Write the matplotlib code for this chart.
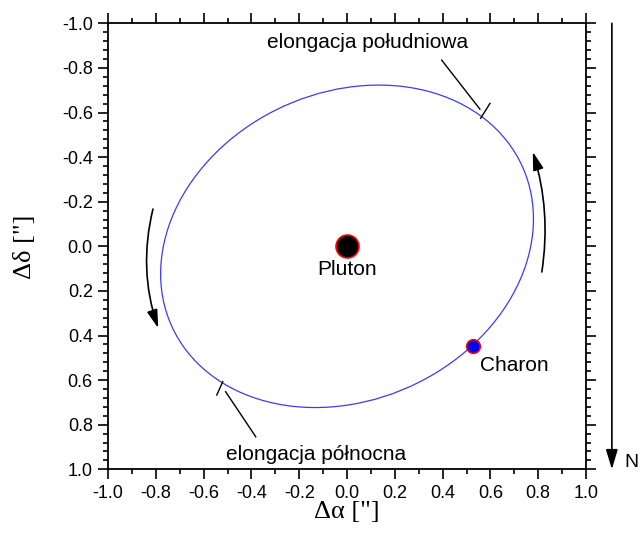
import matplotlib
matplotlib.use('Agg')
import matplotlib.pyplot as plt
from matplotlib.patches import Ellipse, FancyArrowPatch
from matplotlib.ticker import MultipleLocator, FormatStrFormatter

plt.rcParams['font.family'] = ['Liberation Sans', 'DejaVu Sans']
plt.rcParams['axes.unicode_minus'] = False

# ---- data (arcsec) ----
orbit_center = (0.0, 0.0)
orbit_width = 1.638
orbit_height = 1.357
orbit_angle = -33.0

pluto_pos = (0.0, 0.0)
charon_pos = (0.527, 0.446)

x_ticks = [-1.0, -0.8, -0.6, -0.4, -0.2, 0.0, 0.2, 0.4, 0.6, 0.8, 1.0]
y_ticks = [-1.0, -0.8, -0.6, -0.4, -0.2, 0.0, 0.2, 0.4, 0.6, 0.8, 1.0]

south_elong_tick_x = [0.559, 0.598]
south_elong_tick_y = [-0.574, -0.641]
south_leader_x = [0.396, 0.556]
south_leader_y = [-0.835, -0.615]
north_elong_tick_x = [-0.520, -0.545]
north_elong_tick_y = [0.607, 0.667]
north_leader_x = [-0.508, -0.382]
north_leader_y = [0.652, 0.854]

left_arrow_start = (-0.812, -0.167)
left_arrow_end = (-0.790, 0.367)
right_arrow_start = (0.815, 0.115)
right_arrow_end = (0.777, -0.424)

# ---- figure ----
fig = plt.figure(figsize=(6.4, 5.35), dpi=100)
ax = fig.add_axes([0.1688, 0.1228, 0.7469, 0.8336])

ax.set_xlim(x_ticks[0], x_ticks[-1])
ax.set_ylim(y_ticks[-1], y_ticks[0])

orbit = Ellipse(orbit_center, orbit_width, orbit_height, angle=orbit_angle,
                fill=False, edgecolor='#3a3aff', lw=0.9, zorder=2)
ax.add_patch(orbit)

ax.plot(*pluto_pos, 'o', ms=16.5, mfc='black', mec='red', mew=1.2, zorder=4)
ax.plot(*charon_pos, 'o', ms=9.8, mfc='#0000ee', mec='red', mew=1.2, zorder=4)

ax.text(0.0, 0.129, 'Pluton', ha='center', va='baseline', fontsize=15)
ax.text(0.556, 0.558, 'Charon', ha='left', va='baseline', fontsize=15)
ax.text(0.086, -0.888, 'elongacja południowa', ha='center', va='baseline', fontsize=15)
ax.text(-0.128, 0.958, 'elongacja północna', ha='center', va='baseline', fontsize=15)

for xs, ys in [(south_elong_tick_x, south_elong_tick_y), (south_leader_x, south_leader_y),
               (north_elong_tick_x, north_elong_tick_y), (north_leader_x, north_leader_y)]:
    ax.plot(xs, ys, color='black', lw=1.0, zorder=3)

astyle = '-|>,head_length=0.55,head_width=0.16'
ax.add_patch(FancyArrowPatch(left_arrow_start, left_arrow_end,
                             connectionstyle='arc3,rad=0.146', arrowstyle=astyle,
                             mutation_scale=20, color='black', lw=1.2,
                             shrinkA=0, shrinkB=0, zorder=3))
ax.add_patch(FancyArrowPatch(right_arrow_start, right_arrow_end,
                             connectionstyle='arc3,rad=0.116', arrowstyle=astyle,
                             mutation_scale=20, color='black', lw=1.2,
                             shrinkA=0, shrinkB=0, zorder=3))

# North arrow outside axes
ax.annotate('', xy=(1.054, 0.0), xytext=(1.054, 1.0),
            xycoords='axes fraction', textcoords='axes fraction',
            arrowprops=dict(arrowstyle='-|>,head_length=0.6,head_width=0.18',
                            mutation_scale=20, color='black', lw=1.2,
                            shrinkA=0, shrinkB=0),
            annotation_clip=False)
ax.text(1.080, 0.015, 'N', transform=ax.transAxes, ha='left', va='center',
        fontsize=14, clip_on=False)

# ticks
ax.set_xticks(x_ticks)
ax.set_yticks(y_ticks)
ax.xaxis.set_major_formatter(FormatStrFormatter('%.1f'))
ax.yaxis.set_major_formatter(FormatStrFormatter('%.1f'))
ax.xaxis.set_minor_locator(MultipleLocator(0.1))
ax.yaxis.set_minor_locator(MultipleLocator(0.04))
ax.tick_params(which='both', direction='out', top=True, right=True,
               labeltop=False, labelright=False, width=1.2)
ax.tick_params(which='major', length=7, labelsize=13, pad=4.0)
ax.tick_params(which='minor', length=3.8)
for s in ax.spines.values():
    s.set_linewidth(1.3)

ax.set_xlabel('Δα ["]', family=['Liberation Serif', 'DejaVu Serif'], fontsize=19)
ax.set_ylabel('Δδ ["]', family=['Liberation Serif', 'DejaVu Serif'], fontsize=19)
ax.xaxis.set_label_coords(0.5, -0.071)
ax.yaxis.set_label_coords(-0.150, 0.5)

fig.savefig('out.png', dpi=100)
